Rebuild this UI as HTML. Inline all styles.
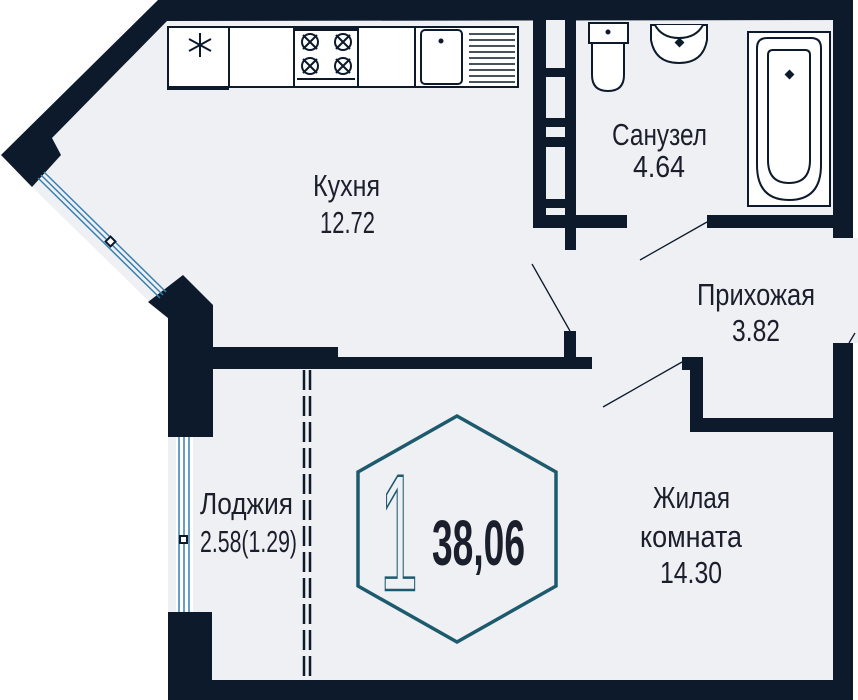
<!DOCTYPE html>
<html><head><meta charset="utf-8"><style>
html,body{margin:0;padding:0;background:#fff;width:858px;height:700px;overflow:hidden}
svg{display:block}
text{font-family:"Liberation Sans",sans-serif;fill:#1a1f2b}
</style></head><body>
<svg width="858" height="700" viewBox="0 0 858 700" xmlns="http://www.w3.org/2000/svg">
<polygon points="167,20 833,20 833,680 168,680 168,320 32,187 52,138" fill="#eef0f3"/>
<polygon points="833,238 858,238 858,343 833,343" fill="#eef0f3"/>
<g fill="#0d1a2b">
<polygon points="158,0 853,0 853,20 167,21 52,138 61,155 32,187 1,155"/>
<rect x="833" y="0" width="20" height="238"/>
<rect x="833" y="343" width="20" height="357"/>
<polygon points="148,302 183,275 213,305 213,437 168,437 168,318"/>
<rect x="168" y="612" width="44" height="88"/>
<rect x="168" y="680" width="685" height="20"/>
<polygon points="213,347 338,347 338,357 592,357 592,369 213,369"/>
<rect x="564" y="331" width="12" height="30"/>
<rect x="533" y="20" width="43" height="208"/>
<rect x="533" y="215" width="94" height="13"/>
<rect x="565" y="215" width="11" height="35"/>
<rect x="707" y="215" width="130" height="13"/>
<rect x="682" y="357" width="21" height="13"/>
<rect x="690" y="357" width="13" height="75"/>
<rect x="690" y="418" width="145" height="14"/>
</g>
<g fill="#eef0f3">
<rect x="546" y="20" width="19" height="48"/>
<rect x="546" y="77" width="19" height="41"/>
<rect x="546" y="127" width="19" height="10"/>
<rect x="546" y="147" width="19" height="52"/>
<rect x="546" y="208" width="19" height="7"/>
</g>
<g stroke="#3a7fb0" stroke-width="1.5">
<line x1="38" y1="178" x2="160" y2="298"/>
<line x1="41" y1="175" x2="163" y2="295"/>
<line x1="44" y1="172" x2="166" y2="292"/>
</g>
<rect x="107" y="238" width="7" height="7" fill="#fff" stroke="#0d1a2b" stroke-width="2" transform="rotate(45 110.5 241.5)"/>
<rect x="176" y="437" width="17" height="175" fill="#fff"/>
<g stroke="#3a7fb0" stroke-width="1.5">
<line x1="179" y1="437" x2="179" y2="612"/>
<line x1="184" y1="437" x2="184" y2="612"/>
<line x1="189" y1="437" x2="189" y2="612"/>
</g>
<rect x="180" y="536" width="7" height="7" fill="#fff" stroke="#0d1a2b" stroke-width="2"/>
<g stroke="#0d1a2b" stroke-width="2.5" stroke-dasharray="20,6">
<line x1="304" y1="370" x2="304" y2="680"/>
<line x1="310" y1="370" x2="310" y2="680"/>
</g>
<g stroke="#0d1a2b" stroke-width="1.3">
<line x1="532" y1="264" x2="570" y2="331"/>
<line x1="640" y1="260" x2="707" y2="222"/>
<line x1="603" y1="407" x2="682" y2="362"/>
<line x1="849" y1="343" x2="855" y2="333"/>
</g>
<g fill="#fff" stroke="#0d1a2b" stroke-width="2">
<rect x="168" y="27" width="350" height="60"/>
<line x1="229" y1="27" x2="229" y2="88"/>
<line x1="294" y1="27" x2="294" y2="87"/>
<line x1="358" y1="27" x2="358" y2="87"/>
<line x1="415" y1="27" x2="415" y2="87"/>
<rect x="421" y="30" width="41" height="54" rx="4"/>
</g>
<rect x="167" y="86" width="62" height="4" fill="#0d1a2b"/>
<rect x="294" y="27" width="64" height="4" fill="#0d1a2b"/>
<g stroke="#0d1a2b" stroke-width="2">
<line x1="200" y1="33" x2="200" y2="57"/>
<line x1="189" y1="39" x2="211" y2="51"/>
<line x1="211" y1="39" x2="189" y2="51"/>
</g>
<g fill="none" stroke="#0d1a2b" stroke-width="2">
<circle cx="310" cy="42" r="8"/><circle cx="343" cy="42" r="8"/>
<circle cx="310" cy="66" r="8"/><circle cx="343" cy="66" r="8"/>
<line x1="303" y1="35" x2="317" y2="49"/><line x1="317" y1="35" x2="303" y2="49"/>
<line x1="336" y1="35" x2="350" y2="49"/><line x1="350" y1="35" x2="336" y2="49"/>
<line x1="303" y1="59" x2="317" y2="73"/><line x1="317" y1="59" x2="303" y2="73"/>
<line x1="336" y1="59" x2="350" y2="73"/><line x1="350" y1="59" x2="336" y2="73"/>
<line x1="297" y1="79" x2="355" y2="79"/>
</g>
<circle cx="441" cy="41" r="2.5" fill="#0d1a2b"/>
<g stroke="#0d1a2b" stroke-width="1.6">
<line x1="469" y1="34" x2="515" y2="34"/><line x1="469" y1="40" x2="515" y2="40"/>
<line x1="469" y1="46" x2="515" y2="46"/><line x1="469" y1="52" x2="515" y2="52"/>
<line x1="469" y1="58" x2="515" y2="58"/><line x1="469" y1="64" x2="515" y2="64"/>
<line x1="469" y1="70" x2="515" y2="70"/><line x1="469" y1="76" x2="515" y2="76"/>
<line x1="469" y1="82" x2="515" y2="82"/>
</g>
<g fill="#fff" stroke="#0d1a2b" stroke-width="2">
<rect x="589" y="23" width="39" height="20"/>
<path d="M592,43 L592,75 Q592,91 608,91 Q624,91 624,75 L624,43 Z"/>
<path d="M651,25 L651,40 Q655,63 679,63 Q703,63 707,40 L707,25 Z"/>
<path d="M655,25 Q662,38 679,38 Q696,38 703,25"/>
<rect x="748" y="32" width="82" height="174"/>
<path d="M757,48 Q757,38 767,38 L811,38 Q821,38 821,48 L821,165 Q821,200 789,200 Q757,200 757,165 Z"/>
<path d="M768,55 Q768,50 773,50 L805,50 Q810,50 810,55 L810,160 Q810,183 789,183 Q768,183 768,160 Z"/>
</g>
<circle cx="608" cy="32" r="2.5" fill="#0d1a2b"/>
<rect x="676" y="39" width="7" height="7" fill="#0d1a2b" transform="rotate(45 679.5 42.5)"/>
<rect x="786" y="71" width="7" height="7" fill="#0d1a2b" transform="rotate(45 789.5 74.5)"/>
<polygon points="457,416 556,472 556,586 457,642 358,586 358,472" fill="none" stroke="#1d5a6e" stroke-width="3.5"/>
<text x="380" y="590" font-size="166" textLength="38" lengthAdjust="spacingAndGlyphs" style="fill:none;stroke:#1d5a6e;stroke-width:2.5">1</text>
<text x="432" y="565" font-size="64" font-weight="bold" textLength="93" lengthAdjust="spacingAndGlyphs">38,06</text>
<g font-size="31">
<text x="313" y="196" textLength="67" lengthAdjust="spacingAndGlyphs">Кухня</text>
<text x="320" y="233" textLength="55" lengthAdjust="spacingAndGlyphs">12.72</text>
<text x="612" y="145" textLength="95" lengthAdjust="spacingAndGlyphs">Санузел</text>
<text x="633" y="177" textLength="52" lengthAdjust="spacingAndGlyphs">4.64</text>
<text x="697" y="305" textLength="118" lengthAdjust="spacingAndGlyphs">Прихожая</text>
<text x="732" y="341" textLength="48" lengthAdjust="spacingAndGlyphs">3.82</text>
<text x="653" y="508" textLength="77" lengthAdjust="spacingAndGlyphs">Жилая</text>
<text x="640" y="547" textLength="102" lengthAdjust="spacingAndGlyphs">комната</text>
<text x="660" y="583" textLength="62" lengthAdjust="spacingAndGlyphs">14.30</text>
<text x="200" y="514" textLength="93" lengthAdjust="spacingAndGlyphs">Лоджия</text>
<text x="200" y="552" textLength="97" lengthAdjust="spacingAndGlyphs">2.58(1.29)</text>
</g>
</svg>
</body></html>
